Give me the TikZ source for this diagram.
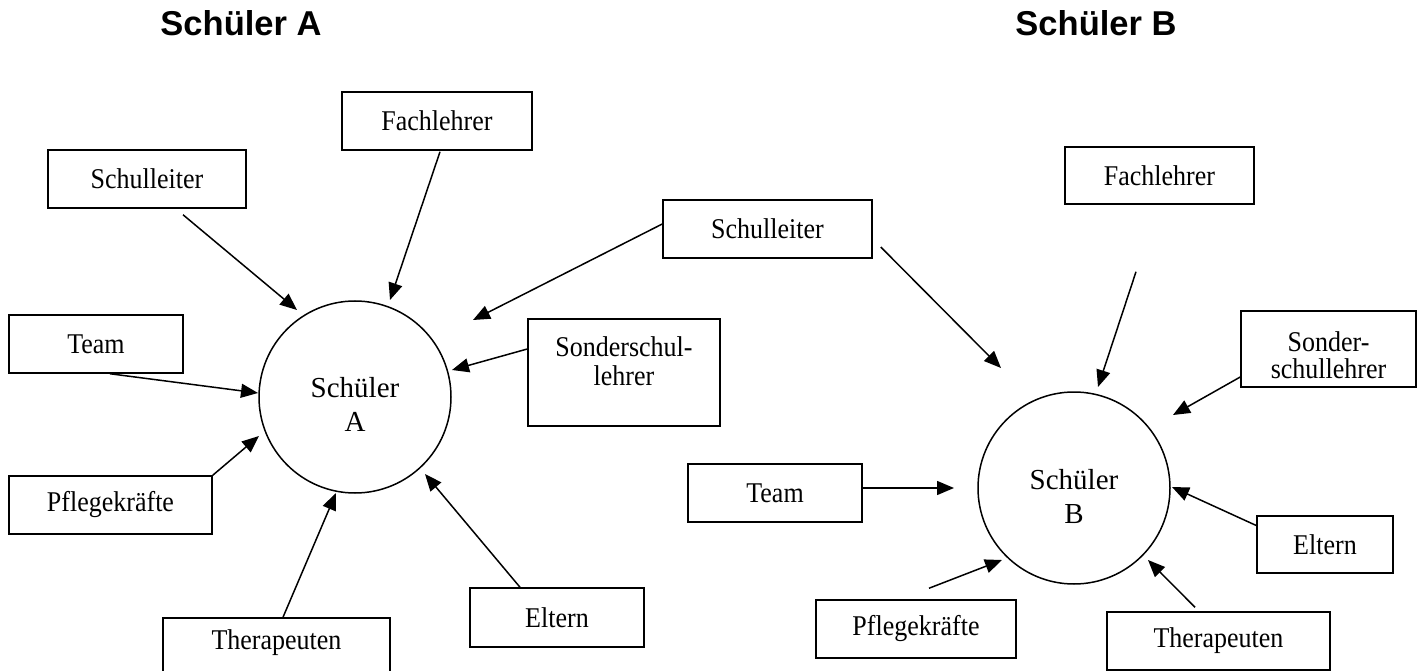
\documentclass[tikz,border=0pt]{standalone}
\usepackage{graphicx}
\usepackage{fontspec}
\setmainfont{Liberation Serif}
\newfontfamily\titlefont{Liberation Sans}
\usetikzlibrary{arrows.meta,calc}
\newcommand{\boxfnt}{\fontsize{26}{25.5}\selectfont}
\newcommand{\bt}[1]{\scalebox{1}[1.1]{#1}}
\newcommand{\twol}[2]{\scalebox{1}[1.1]{\begin{tabular}[t]{@{}c@{}}#1\\#2\end{tabular}}}
\begin{document}
\begin{tikzpicture}[x=1pt,y=-1pt,
  box/.style={draw, line width=1.5pt, inner sep=0pt, font=\boxfnt},
  lbl/.style={inner sep=0pt, font=\boxfnt},
  pupil/.style={draw, circle, line width=1.5pt, inner sep=0pt, minimum size=192pt},
  ptext/.style={inner sep=0pt, anchor=base, font=\fontsize{29}{34}\selectfont},
  ttl/.style={inner sep=0pt, anchor=base, font=\titlefont\bfseries\fontsize{34.5}{40}\selectfont},
  arr/.style={-{Triangle[length=17pt,width=14pt]}, line width=1.5pt}]
\useasboundingbox (0,0) rectangle (1417,671);

% titles
\node[ttl] (titA) at (241,36) {Schüler A};
\node[ttl] (titB) at (1096,36) {Schüler B};

% circles
\node[pupil] (cA) at (355,397) {};
\node[ptext] (cAt) at (355,397) {\begin{tabular}[t]{@{}c@{}}Schüler\\A\end{tabular}};
\node[pupil] (cB) at (1074,488) {};
\node[ptext] (cBt) at (1074,489) {\begin{tabular}[t]{@{}c@{}}Schüler\\B\end{tabular}};

% boxes A side
\node[box, minimum width=198pt, minimum height=58pt] (sA) at (147,179) {\bt{Schulleiter}};
\node[box, minimum width=190pt, minimum height=58pt] (fA) at (437,121) {\bt{Fachlehrer}};
\node[box, minimum width=174pt, minimum height=58pt] (tA) at (96,344) {\bt{Team}};
\node[box, minimum width=192pt, minimum height=107pt] (soA) at (624,372.5) {};
\node[lbl, anchor=base] (soAt) at (624,356) {\fontsize{26}{26.5}\selectfont\twol{Sonderschul-}{lehrer}};
\node[box, minimum width=209pt, minimum height=58pt] (sM) at (767.5,229) {\bt{Schulleiter}};
\node[box, minimum width=203pt, minimum height=58pt] (pA) at (110.5,505) {\bt{Pflegekräfte}};
\node[box, minimum width=227pt, minimum height=62pt] (thA) at (276.5,649) {};
\node[lbl] (thAt) at (276.5,643) {\bt{Therapeuten}};
\node[box, minimum width=174pt, minimum height=59pt] (eA) at (557,617.5) {\bt{Eltern}};

% boxes B side
\node[box, minimum width=189pt, minimum height=57pt] (fB) at (1159.5,175.5) {\bt{Fachlehrer}};
\node[box, minimum width=175pt, minimum height=76pt] (soB) at (1328.5,349) {};
\node[lbl, anchor=base] (soBt) at (1328.5,351) {\fontsize{26}{24}\selectfont\twol{Sonder-}{schullehrer}};
\node[box, minimum width=174pt, minimum height=58pt] (tB) at (775,493) {\bt{Team}};
\node[box, minimum width=136pt, minimum height=57pt] (eB) at (1325,544.5) {\bt{Eltern}};
\node[box, minimum width=200pt, minimum height=58pt] (pB) at (916,629) {\bt{Pflegekräfte}};
\node[box, minimum width=223pt, minimum height=58pt] (thB) at (1218.5,641) {\bt{Therapeuten}};

% arrows A
\draw[arr] ($(sA.south)+(36,6)$) -- ($(cA.center)+(-58,-87)$);
\draw[arr] ($(fA.south)+(3,1)$) -- ($(cA.center)+(35,-97)$);
\draw[arr] ($(tA.south)+(14,0)$) -- ($(cA.center)+(-97,-4)$);
\draw[arr] ($(soA.west)+(0,-23.5)$) -- ($(cA.center)+(97,-27)$);
\draw[arr] ($(sM.west)+(0,-5)$) -- ($(cA.center)+(118,-77)$);
\draw[arr] (pA.north east) -- ($(cA.center)+(-96,39)$);
\draw[arr] ($(thA.north)+(6.5,0)$) -- ($(cA.center)+(-19,96)$);
\draw[arr] ($(eA.north)+(-37,0)$) -- ($(cA.center)+(70,77)$);

% arrows B
\draw[arr] ($(sM.east)+(8,18)$) -- ($(cB.center)+(-73,-120)$);
\draw[arr] ($(fB.south)+(-23.5,67)$) -- ($(cB.center)+(24,-101)$);
\draw[arr] ($(soB.west)+(0,28)$) -- ($(cB.center)+(99,-73)$);
\draw[arr] ($(tB.east)+(0,-5)$) -- ($(cB.center)+(-120,0)$);
\draw[arr] ($(eB.west)+(0,-19)$) -- ($(cB.center)+(98,-1)$);
\draw[arr] ($(pB.north)+(13,-11)$) -- ($(cB.center)+(-72,72)$);
\draw[arr] ($(thB.north)+(-23.5,-4)$) -- ($(cB.center)+(74,72)$);
\end{tikzpicture}
\end{document}
